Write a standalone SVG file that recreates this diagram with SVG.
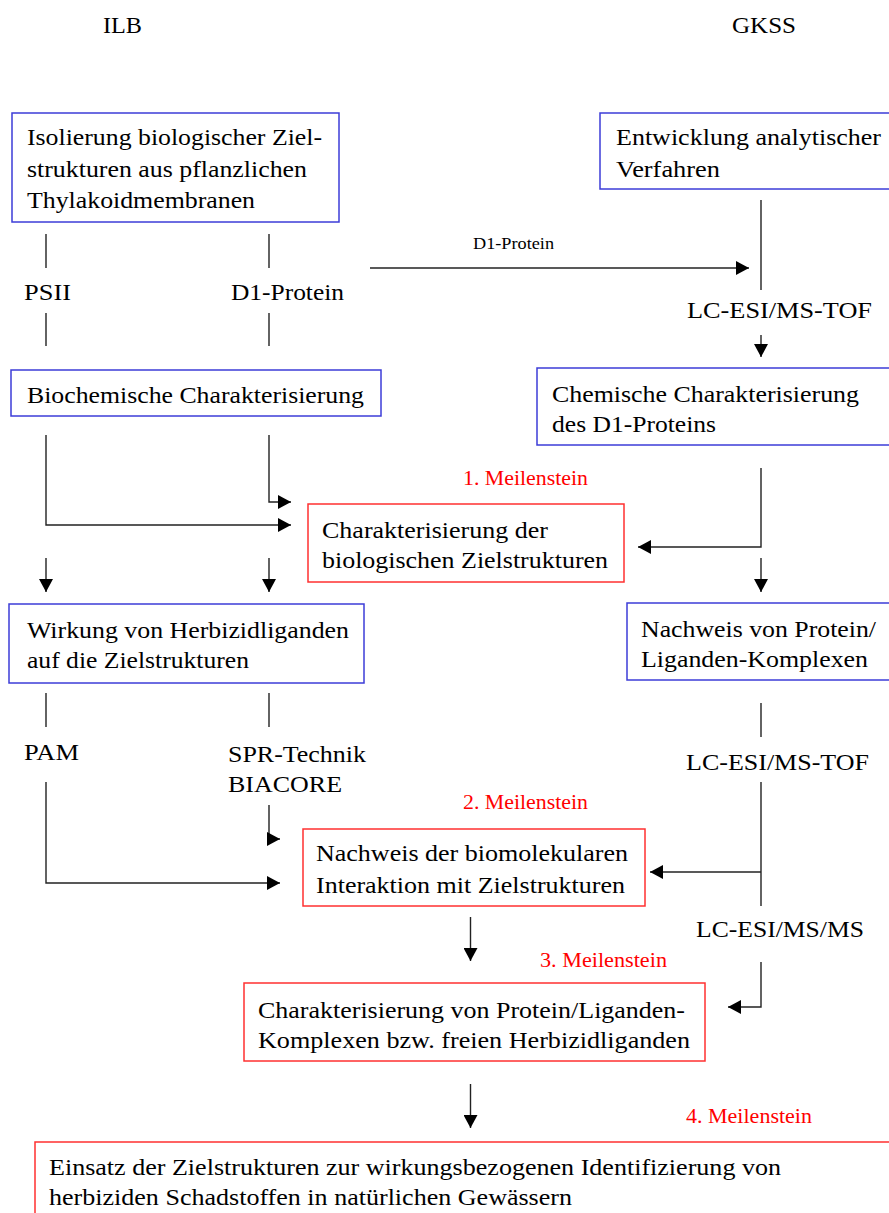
<svg xmlns="http://www.w3.org/2000/svg" width="889" height="1213" viewBox="0 0 889 1213" font-family="'Liberation Serif', serif">
<defs>
<style>
text{font-family:'Liberation Serif',serif;font-size:24px;fill:#000}
.ms{fill:#ff0000;font-size:20px}
.sm{font-size:17px}
.blue{fill:none;stroke:#3c3cd8;stroke-width:1.5}
.red{fill:none;stroke:#ff3030;stroke-width:1.5}
.ln{fill:none;stroke:#222;stroke-width:1.4}
</style>
<marker id="ah" viewBox="0 0 13 14" refX="13" refY="7" markerWidth="13" markerHeight="14" markerUnits="userSpaceOnUse" orient="auto">
<path d="M0,0 L13,7 L0,14 z" fill="#000"/>
</marker>
</defs>
<rect width="889" height="1213" fill="#fff"/>

<g id="headers">
<text x="103" y="33" textLength="39" lengthAdjust="spacingAndGlyphs">ILB</text>
<text x="732" y="33" textLength="64" lengthAdjust="spacingAndGlyphs">GKSS</text>
</g>

<g id="isolierung">
<rect class="blue" x="12" y="113" width="327" height="109"/>
<text x="27" y="145" textLength="295" lengthAdjust="spacingAndGlyphs">Isolierung biologischer Ziel-</text>
<text x="27" y="177" textLength="280" lengthAdjust="spacingAndGlyphs">strukturen aus pflanzlichen</text>
<text x="27" y="208" textLength="228" lengthAdjust="spacingAndGlyphs">Thylakoidmembranen</text>
</g>

<g id="entwicklung">
<rect class="blue" x="600" y="113" width="295" height="76"/>
<text x="616" y="145" textLength="265" lengthAdjust="spacingAndGlyphs">Entwicklung analytischer</text>
<text x="616" y="177" textLength="104" lengthAdjust="spacingAndGlyphs">Verfahren</text>
</g>

<g id="biochemische">
<rect class="blue" x="11" y="370" width="370" height="46"/>
<text x="27" y="403" textLength="337" lengthAdjust="spacingAndGlyphs">Biochemische Charakterisierung</text>
</g>

<g id="chemische">
<rect class="blue" x="537" y="368" width="358" height="77"/>
<text x="552" y="402" textLength="307" lengthAdjust="spacingAndGlyphs">Chemische Charakterisierung</text>
<text x="552" y="432" textLength="164" lengthAdjust="spacingAndGlyphs">des D1-Proteins</text>
</g>

<g id="meilenstein1">
<rect class="red" x="308" y="504" width="316" height="78"/>
<text x="322" y="538" textLength="226" lengthAdjust="spacingAndGlyphs">Charakterisierung der</text>
<text x="322" y="568" textLength="286" lengthAdjust="spacingAndGlyphs">biologischen Zielstrukturen</text>
</g>

<g id="wirkung">
<rect class="blue" x="9" y="604" width="355" height="79"/>
<text x="27" y="638" textLength="322" lengthAdjust="spacingAndGlyphs">Wirkung von Herbizidliganden</text>
<text x="27" y="668" textLength="222" lengthAdjust="spacingAndGlyphs">auf die Zielstrukturen</text>
</g>

<g id="nachweis-komplexe">
<rect class="blue" x="627" y="603" width="268" height="77"/>
<text x="641" y="637" textLength="235" lengthAdjust="spacingAndGlyphs">Nachweis von Protein/</text>
<text x="641" y="667" textLength="227" lengthAdjust="spacingAndGlyphs">Liganden-Komplexen</text>
</g>

<g id="meilenstein2">
<rect class="red" x="303" y="829" width="342" height="77"/>
<text x="316" y="861" textLength="312" lengthAdjust="spacingAndGlyphs">Nachweis der biomolekularen</text>
<text x="316" y="893" textLength="309" lengthAdjust="spacingAndGlyphs">Interaktion mit Zielstrukturen</text>
</g>

<g id="meilenstein3">
<rect class="red" x="244" y="983" width="461" height="78"/>
<text x="258" y="1018" textLength="427" lengthAdjust="spacingAndGlyphs">Charakterisierung von Protein/Liganden-</text>
<text x="258" y="1048" textLength="432" lengthAdjust="spacingAndGlyphs">Komplexen bzw. freien Herbizidliganden</text>
</g>

<g id="meilenstein4">
<rect class="red" x="35" y="1142" width="870" height="100"/>
<text x="49" y="1175" textLength="732" lengthAdjust="spacingAndGlyphs">Einsatz der Zielstrukturen zur wirkungsbezogenen Identifizierung von</text>
<text x="49" y="1205" textLength="523" lengthAdjust="spacingAndGlyphs">herbiziden Schadstoffen in natürlichen Gewässern</text>
</g>

<g id="milestone-labels">
<text class="ms" x="463" y="485" textLength="125" lengthAdjust="spacingAndGlyphs">1. Meilenstein</text>
<text class="ms" x="463" y="809" textLength="125" lengthAdjust="spacingAndGlyphs">2. Meilenstein</text>
<text class="ms" x="540" y="967" textLength="127" lengthAdjust="spacingAndGlyphs">3. Meilenstein</text>
<text class="ms" x="686" y="1123" textLength="126" lengthAdjust="spacingAndGlyphs">4. Meilenstein</text>
</g>

<g id="connectors">
<line class="ln" x1="46" y1="234" x2="46" y2="268"/>
<line class="ln" x1="269" y1="234" x2="269" y2="268"/>
<line class="ln" x1="46" y1="313" x2="46" y2="346"/>
<line class="ln" x1="269" y1="313" x2="269" y2="346"/>
<line class="ln" x1="370" y1="268" x2="749" y2="268" marker-end="url(#ah)"/>
<line class="ln" x1="761" y1="200" x2="761" y2="290"/>
<line class="ln" x1="761" y1="335" x2="761" y2="357" marker-end="url(#ah)"/>
<path class="ln" d="M46,435 V525 H291" marker-end="url(#ah)"/>
<path class="ln" d="M269,435 V502 H291" marker-end="url(#ah)"/>
<path class="ln" d="M761,468 V547 H638" marker-end="url(#ah)"/>
<line class="ln" x1="46" y1="558" x2="46" y2="592" marker-end="url(#ah)"/>
<line class="ln" x1="269" y1="558" x2="269" y2="592" marker-end="url(#ah)"/>
<line class="ln" x1="761" y1="558" x2="761" y2="592" marker-end="url(#ah)"/>
<line class="ln" x1="46" y1="693" x2="46" y2="727"/>
<line class="ln" x1="269" y1="693" x2="269" y2="727"/>
<line class="ln" x1="761" y1="703" x2="761" y2="737"/>
<path class="ln" d="M46,782 V883 H280" marker-end="url(#ah)"/>
<path class="ln" d="M269,805 V839 H280" marker-end="url(#ah)"/>
<line class="ln" x1="761" y1="782" x2="761" y2="906"/>
<path class="ln" d="M761,872 H650" marker-end="url(#ah)"/>
<path class="ln" d="M761,962 V1007 H728" marker-end="url(#ah)"/>
<line class="ln" x1="470.5" y1="917" x2="470.5" y2="961" marker-end="url(#ah)"/>
<line class="ln" x1="470.5" y1="1084" x2="470.5" y2="1128" marker-end="url(#ah)"/>
</g>

<g id="connector-labels">
<text x="24" y="300" textLength="47" lengthAdjust="spacingAndGlyphs">PSII</text>
<text x="231" y="300" textLength="113" lengthAdjust="spacingAndGlyphs">D1-Protein</text>
<text class="sm" x="473" y="249" textLength="81" lengthAdjust="spacingAndGlyphs">D1-Protein</text>
<text x="687" y="318" textLength="185" lengthAdjust="spacingAndGlyphs">LC-ESI/MS-TOF</text>
<text x="24" y="760" textLength="55" lengthAdjust="spacingAndGlyphs">PAM</text>
<text x="228" y="762" textLength="138" lengthAdjust="spacingAndGlyphs">SPR-Technik</text>
<text x="228" y="792" textLength="114" lengthAdjust="spacingAndGlyphs">BIACORE</text>
<text x="686" y="770" textLength="183" lengthAdjust="spacingAndGlyphs">LC-ESI/MS-TOF</text>
<text x="696" y="937" textLength="168" lengthAdjust="spacingAndGlyphs">LC-ESI/MS/MS</text>
</g>
</svg>
